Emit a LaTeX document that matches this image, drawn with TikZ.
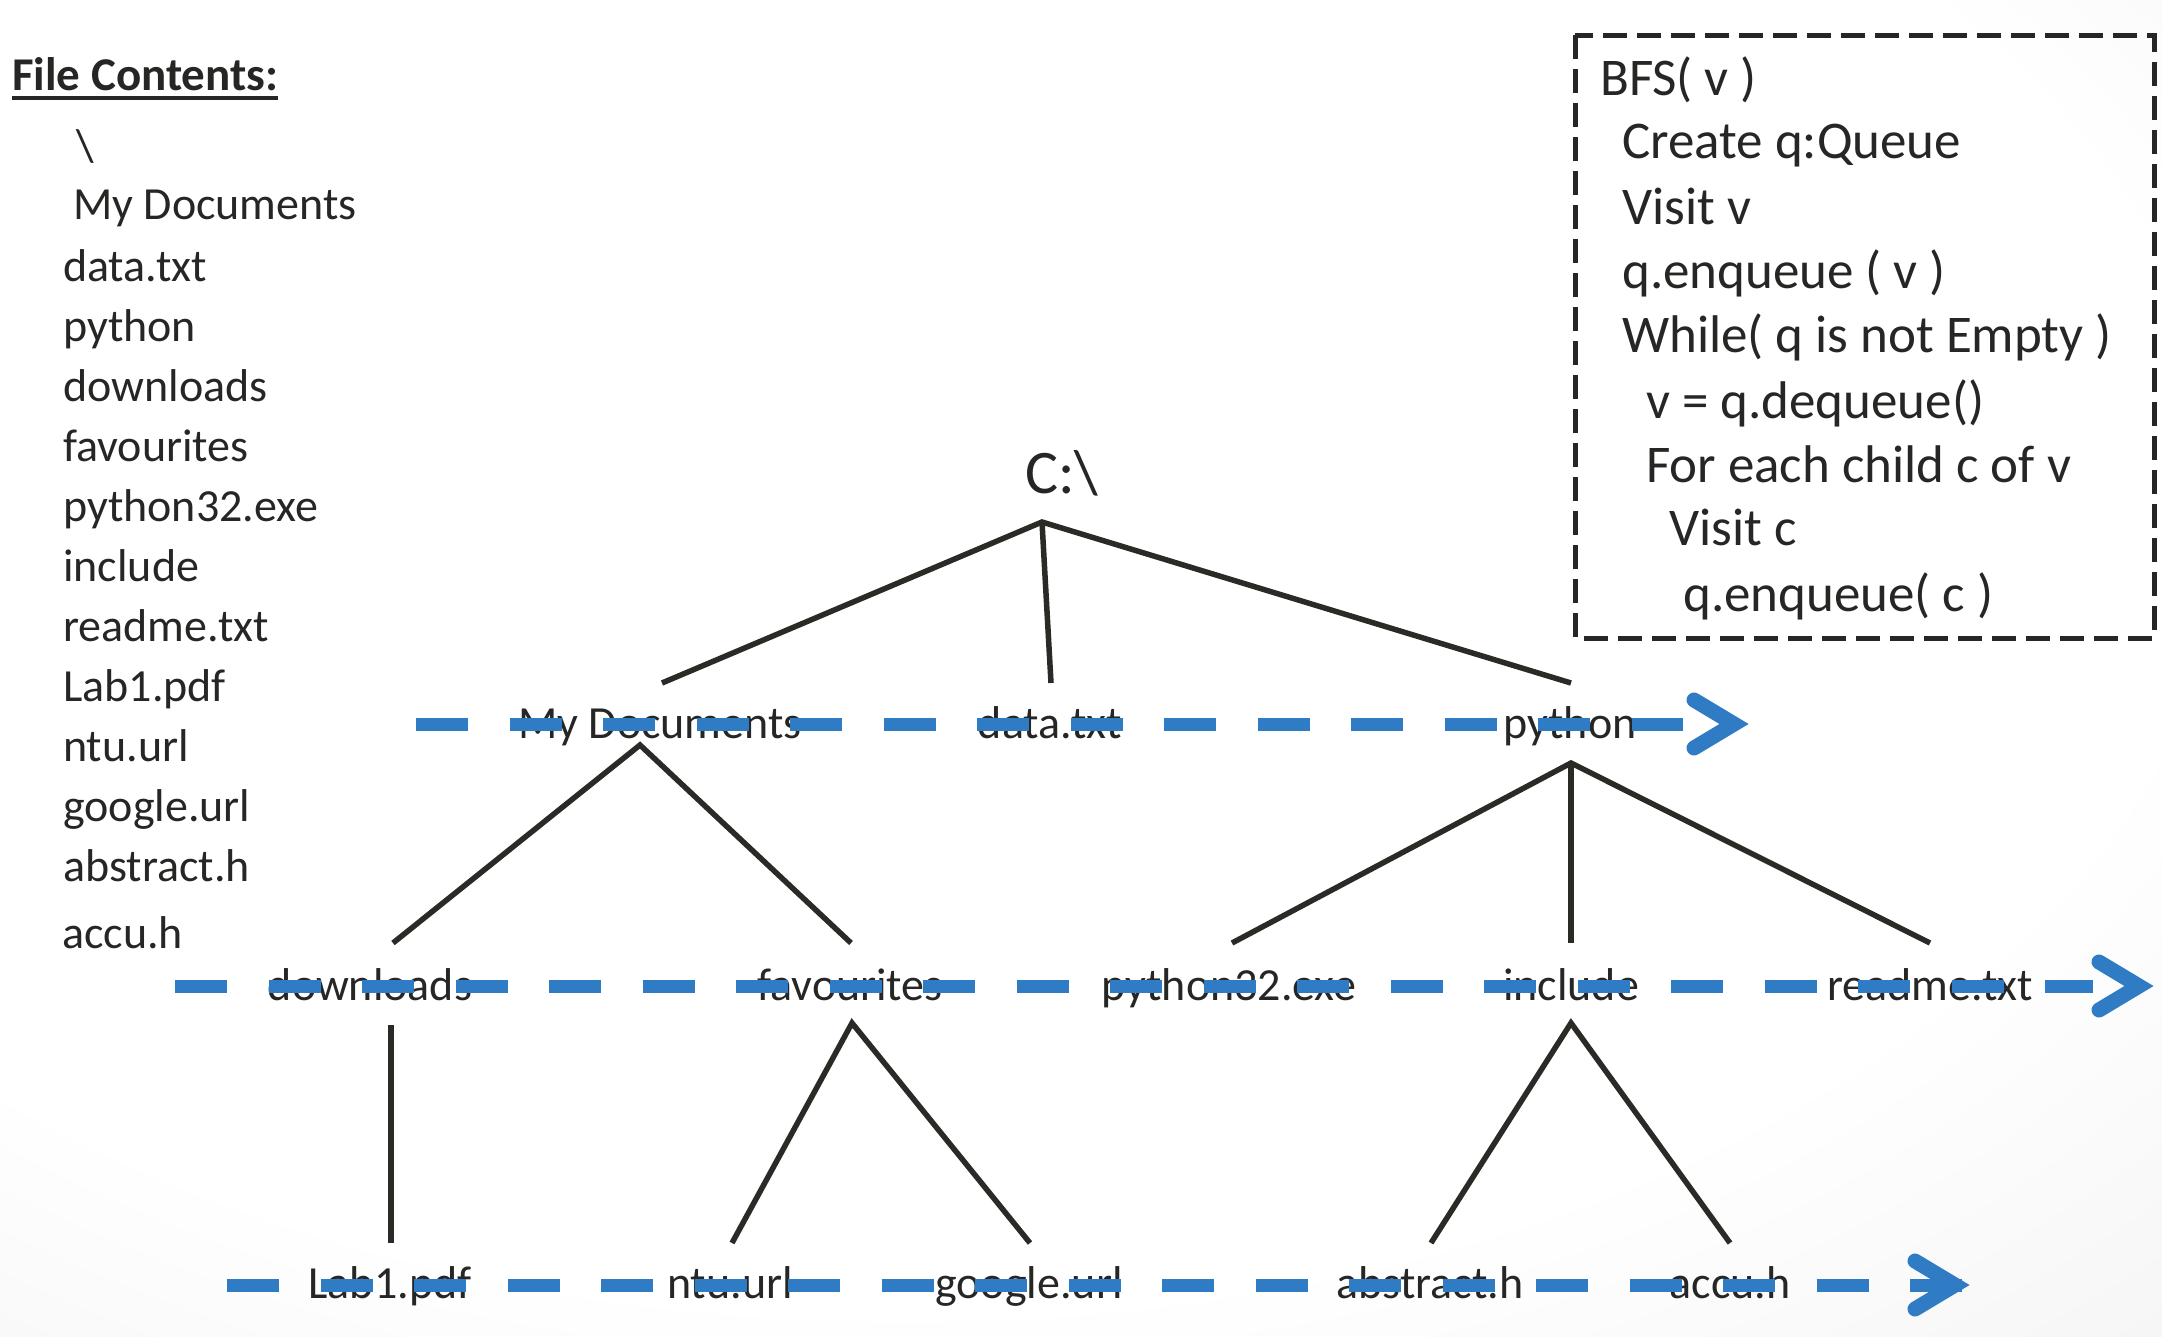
\documentclass[tikz,border=0pt]{standalone}
\usepackage{fontspec}
\setmainfont{Carlito}
\usetikzlibrary{calc}
\definecolor{ink}{HTML}{262624}
\definecolor{edgeink}{HTML}{2B2A26}
\definecolor{bfsblue}{HTML}{2F7BC4}
\pgfdeclareradialshading{bgshade}{\pgfpoint{-8bp}{12bp}}{color(0bp)=(white); color(30bp)=(white); color(62bp)=(black!11)}
\tikzset{
  lst/.style={anchor=base west, inner sep=0pt, text=ink, font=\fontsize{46}{55}\selectfont},
  ttl/.style={anchor=base west, inner sep=0pt, text=ink, font=\fontsize{47}{56}\selectfont\bfseries},
  pseudo/.style={anchor=base west, inner sep=0pt, text=ink, font=\fontsize{53}{63}\selectfont},
  tlabel/.style={anchor=base, inner sep=0pt, text=ink, font=\fontsize{46}{55}\selectfont},
  treeedge/.style={draw=edgeink, line width=5.5pt},
  bfsline/.style={draw=bfsblue, line width=13pt, dash pattern=on 52pt off 41.5pt},
  chev/.style={draw=bfsblue, line width=15pt, line cap=round, line join=miter},
  codebox/.style={draw=ink, line width=5pt, dash pattern=on 24pt off 10pt},
}
\begin{document}
\begin{tikzpicture}[x=1pt,y=-1pt]
\useasboundingbox (0,0) rectangle (2162,1336);
\shade[shading=bgshade] (0,0) rectangle (2162,1336);

% ---- file contents list ----
\node[ttl] (title) at (12,90) {File Contents:};
\draw[ink, line width=3.5pt] ([yshift=-8pt]title.base west) -- ([yshift=-8pt]title.base east);
\node[lst] (f0) at (76,161) {\textbackslash};
\node[lst] (f1) at (73,219) {My Documents};
\node[lst] (f2) at (63,281) {data.txt};
\node[lst] (f3) at (63,341) {python};
\node[lst] (f4) at (63,401) {downloads};
\node[lst] (f5) at (63,461) {favourites};
\node[lst] (f6) at (63,521) {python32.exe};
\node[lst] (f7) at (63,581) {include};
\node[lst] (f8) at (63,641) {readme.txt};
\node[lst] (f9) at (63,701) {Lab1.pdf};
\node[lst] (f10) at (63,761) {ntu.url};
\node[lst] (f11) at (63,821) {google.url};
\node[lst] (f12) at (63,881) {abstract.h};
\node[lst] (f13) at (62,948) {accu.h};

% ---- BFS pseudo code box ----
\draw[codebox] (1575,35) rectangle (2154,638);
\node[pseudo] (b1) at (1600,95) {BFS( v )};
\node[pseudo] (b2) at (1622,158) {Create q:Queue};
\node[pseudo] (b3) at (1622,224) {Visit v};
\node[pseudo] (b4) at (1622,288) {q.enqueue ( v )};
\node[pseudo] (b5) at (1622,352) {While( q is not Empty )};
\node[pseudo] (b6) at (1646,418) {v = q.dequeue()};
\node[pseudo] (b7) at (1646,482) {For each child c of v};
\node[pseudo] (b8) at (1669,545) {Visit c};
\node[pseudo] (b9) at (1683,611) {q.enqueue( c )};

% ---- tree labels ----
\node[tlabel, font=\fontsize{62}{70}\selectfont] (root) at (1062,493) {C:\textbackslash};
\node[tlabel] (md) at (660,738) {My Documents};
\node[tlabel] (dt) at (1050,738) {data.txt};
\node[tlabel] (py) at (1570,738) {python};
\node[tlabel] (dl) at (370,1000) {downloads};
\node[tlabel] (fav) at (850,1000) {favourites};
\node[tlabel] (p32) at (1229,1000) {python32.exe};
\node[tlabel] (inc) at (1571,1000) {include};
\node[tlabel] (rd) at (1930,1000) {readme.txt};
\node[tlabel] (lab) at (390,1298) {Lab1.pdf};
\node[tlabel] (ntu) at (730,1298) {ntu.url};
\node[tlabel] (goo) at (1029,1298) {google.url};
\node[tlabel] (abs) at (1430,1298) {abstract.h};
\node[tlabel] (acc) at (1730,1298) {accu.h};

% ---- edge end points ----
\coordinate (root-b) at (1042,522);
\coordinate (md-t) at (662,683);
\coordinate (dt-t) at (1051,683);
\coordinate (py-t) at (1571,683);
\coordinate (md-b) at (640,745);
\coordinate (py-b) at (1571,763);
\coordinate (dl-t) at (393,943);
\coordinate (fav-t) at (851,943);
\coordinate (p32-t) at (1232,943);
\coordinate (inc-t) at (1571,943);
\coordinate (rd-t) at (1930,943);
\coordinate (dl-b) at (391,1025);
\coordinate (fav-b) at (852,1023);
\coordinate (inc-b) at (1571,1023);
\coordinate (lab-t) at (391,1243);
\coordinate (ntu-t) at (732,1243);
\coordinate (goo-t) at (1030,1243);
\coordinate (abs-t) at (1431,1243);
\coordinate (acc-t) at (1730,1243);

\draw[treeedge] (md-t) -- (root-b) -- (py-t);
\draw[treeedge] (root-b) -- (dt-t);
\draw[treeedge] (dl-t) -- (md-b) -- (fav-t);
\draw[treeedge] (p32-t) -- (py-b) -- (rd-t);
\draw[treeedge] (py-b) -- (inc-t);
\draw[treeedge] (dl-b) -- (lab-t);
\draw[treeedge] (ntu-t) -- (fav-b) -- (goo-t);
\draw[treeedge] (abs-t) -- (inc-b) -- (acc-t);

% ---- BFS level arrows ----
\coordinate (l1s) at (416,724);  \coordinate (l1e) at (1683,724);  \coordinate (c1) at (1734,724);
\coordinate (l2s) at (175,986);  \coordinate (l2e) at (2093,986);  \coordinate (c2) at (2139,986);
\coordinate (l3s) at (227,1285); \coordinate (l3e) at (1962,1285); \coordinate (c3) at (1955,1285);
\draw[bfsline] (l1s) -- (l1e);
\draw[bfsline] (l2s) -- (l2e);
\draw[bfsline] (l3s) -- (l3e);
\draw[chev] ($(c1)+(-40,-24)$) -- (c1) -- ($(c1)+(-40,24)$);
\draw[chev] ($(c2)+(-40,-24)$) -- (c2) -- ($(c2)+(-40,24)$);
\draw[chev] ($(c3)+(-40,-24)$) -- (c3) -- ($(c3)+(-40,24)$);
\end{tikzpicture}
\end{document}
